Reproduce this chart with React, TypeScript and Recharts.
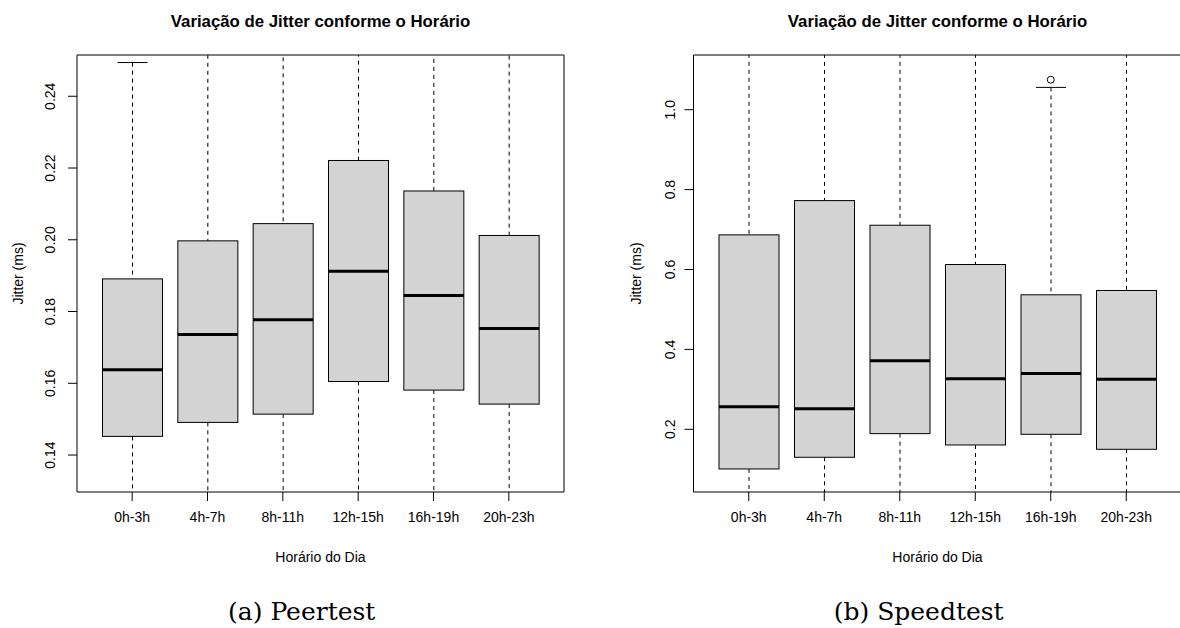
import React from 'react';
import { ComposedChart, Bar, Scatter, XAxis, YAxis } from 'recharts';

// Time-of-day groups shared by both panels
const categories = ['0h-3h', '4h-7h', '8h-11h', '12h-15h', '16h-19h', '20h-23h'];

// Peertest jitter (ms): whisker ends, quartiles, medians and outliers
const peerLow = [0.121, 0.124, 0.126, 0.128, 0.127, 0.125];
const peerQ1 = [0.1452, 0.1491, 0.1514, 0.1605, 0.1581, 0.1542];
const peerMedian = [0.1638, 0.1736, 0.1777, 0.1912, 0.1845, 0.1753];
const peerQ3 = [0.1891, 0.1997, 0.2045, 0.2221, 0.2136, 0.2012];
const peerHigh = [0.2494, 0.256, 0.262, 0.27, 0.266, 0.258];
const peerOutliers: (number | null)[] = [null, null, null, null, null, null];
const peerTicks = [0.14, 0.16, 0.18, 0.2, 0.22, 0.24];
const peerDomain: [number, number] = [0.1297, 0.2515];

// Speedtest jitter (ms)
const speedLow = [0.02, 0.03, 0.035, 0.03, 0.035, 0.03];
const speedQ1 = [0.1008, 0.13, 0.1892, 0.1608, 0.1875, 0.15];
const speedMedian = [0.2567, 0.2517, 0.3717, 0.3267, 0.34, 0.325];
const speedQ3 = [0.6867, 0.7725, 0.7108, 0.6125, 0.5367, 0.5475];
const speedHigh = [1.3, 1.4, 1.3, 1.2, 1.0558, 1.14];
const speedOutliers: (number | null)[] = [null, null, null, null, 1.075, null];
const speedTicks = [0.2, 0.4, 0.6, 0.8, 1.0];
const speedDomain: [number, number] = [0.0431, 1.1369];

const chartTitle = 'Variação de Jitter conforme o Horário';
const xTitle = 'Horário do Dia';
const yTitle = 'Jitter (ms)';

const FONT = '"Liberation Sans", Arial, Helvetica, sans-serif';

type Row = { cat: string; lo: number; q1: number; med: number; q3: number; hi: number; out: number | null };

const buildRows = (
  lo: number[],
  q1: number[],
  med: number[],
  q3: number[],
  hi: number[],
  out: (number | null)[]
): Row[] =>
  categories.map((cat, i) => ({ cat, lo: lo[i], q1: q1[i], med: med[i], q3: q3[i], hi: hi[i], out: out[i] }));

const peerRows = buildRows(peerLow, peerQ1, peerMedian, peerQ3, peerHigh, peerOutliers);
const speedRows = buildRows(speedLow, speedQ1, speedMedian, speedQ3, speedHigh, speedOutliers);

// Draws one box-and-whisker glyph inside the bar spanning [lo, hi]
const BoxShape = (props: any) => {
  const { x, y, width, height, payload } = props;
  if (payload == null || !isFinite(y) || !isFinite(height)) return null;
  const top = Math.min(y, y + height);
  const bottom = Math.max(y, y + height);
  const span = payload.hi - payload.lo;
  const py = (v: number) => top + ((payload.hi - v) / span) * (bottom - top);
  const cx = x + width / 2;
  const cap = width / 4;
  const yHi = py(payload.hi);
  const yLo = py(payload.lo);
  const yQ3 = py(payload.q3);
  const yQ1 = py(payload.q1);
  const yMed = py(payload.med);
  return (
    <g>
      <line x1={cx} x2={cx} y1={yHi} y2={yQ3} stroke="#000" strokeWidth={1} strokeDasharray="4 4" />
      <line x1={cx} x2={cx} y1={yQ1} y2={yLo} stroke="#000" strokeWidth={1} strokeDasharray="4 4" />
      <line x1={cx - cap} x2={cx + cap} y1={yHi} y2={yHi} stroke="#000" strokeWidth={1} />
      <line x1={cx - cap} x2={cx + cap} y1={yLo} y2={yLo} stroke="#000" strokeWidth={1} />
      <rect x={x} y={yQ3} width={width} height={yQ1 - yQ3} fill="#D3D3D3" stroke="#000" strokeWidth={1} />
      <line x1={x} x2={x + width} y1={yMed} y2={yMed} stroke="#000" strokeWidth={3} />
    </g>
  );
};

const OutlierShape = (props: any) => {
  const { cx, cy, payload } = props;
  if (payload == null || payload.out == null || !isFinite(cx) || !isFinite(cy)) return null;
  return <circle cx={cx} cy={cy} r={3.5} fill="none" stroke="#000" strokeWidth={1} />;
};

const XTick = (props: any) => {
  const { x, y, payload } = props;
  return (
    <text x={x} y={y + 19.3} textAnchor="middle" fontSize={14} fontFamily={FONT} fill="#000">
      {payload.value}
    </text>
  );
};

type PanelProps = {
  rows: Row[];
  domain: [number, number];
  ticks: number[];
  digits: number;
  yAxisWidth: number;
  rightMargin: number;
  tickLabelGap: number;
  yTitleGap: number;
};

const Panel = ({ rows, domain, ticks, digits, yAxisWidth, rightMargin, tickLabelGap, yTitleGap }: PanelProps) => {
  const tickSize = 9;
  const tickMargin = 2;
  const YTick = (props: any) => {
    const { x, y, payload } = props;
    const cx = x + tickSize + tickMargin - tickLabelGap;
    return (
      <text
        x={cx}
        y={y}
        transform={`rotate(-90, ${cx}, ${y})`}
        textAnchor="middle"
        dominantBaseline="central"
        fontSize={14}
        fontFamily={FONT}
        fill="#000"
      >
        {Number(payload.value).toFixed(digits)}
      </text>
    );
  };
  return (
    <ComposedChart
      width={600}
      height={628}
      data={rows}
      margin={{ top: 54, right: rightMargin, bottom: 106, left: 0 }}
    >
      <XAxis
        xAxisId="b"
        dataKey="cat"
        type="category"
        height={30}
        interval={0}
        padding={{ left: 17.5, right: 17.5 }}
        tickSize={tickSize}
        tickMargin={tickMargin}
        axisLine={{ stroke: '#000' }}
        tickLine={{ stroke: '#000' }}
        tick={<XTick />}
        label={(p: any) => {
          const vb = p.viewBox;
          return (
            <text x={vb.x + vb.width / 2} y={vb.y + 69.5} textAnchor="middle" fontSize={14} fontFamily={FONT} fill="#000">
              {xTitle}
            </text>
          );
        }}
      />
      {/* top edge of the plot frame, carrying the chart title */}
      <XAxis
        xAxisId="t"
        dataKey="cat"
        type="category"
        orientation="top"
        height={1}
        padding={{ left: 17.5, right: 17.5 }}
        tick={false}
        tickLine={false}
        axisLine={{ stroke: '#000' }}
        label={(p: any) => {
          const vb = p.viewBox;
          return (
            <text
              x={vb.x + vb.width / 2}
              y={vb.y + vb.height - 27.7}
              textAnchor="middle"
              fontSize={16.8}
              fontWeight="bold"
              fontFamily={FONT}
              fill="#000"
            >
              {chartTitle}
            </text>
          );
        }}
      />
      <YAxis
        yAxisId="l"
        type="number"
        domain={domain}
        allowDataOverflow
        ticks={ticks}
        interval={0}
        width={yAxisWidth}
        tickSize={tickSize}
        tickMargin={tickMargin}
        axisLine={{ stroke: '#000' }}
        tickLine={{ stroke: '#000' }}
        tick={<YTick />}
        label={(p: any) => {
          const vb = p.viewBox;
          const cx = vb.x + vb.width - yTitleGap;
          const cy = vb.y + vb.height / 2;
          return (
            <text
              x={cx}
              y={cy}
              transform={`rotate(-90, ${cx}, ${cy})`}
              textAnchor="middle"
              dominantBaseline="central"
              fontSize={14}
              fontFamily={FONT}
              fill="#000"
            >
              {yTitle}
            </text>
          );
        }}
      />
      {/* right edge of the plot frame */}
      <YAxis
        yAxisId="r"
        type="number"
        orientation="right"
        domain={domain}
        allowDataOverflow
        width={1}
        tick={false}
        tickLine={false}
        axisLine={{ stroke: '#000' }}
      />
      <Bar
        xAxisId="b"
        yAxisId="l"
        dataKey={(d: Row) => [d.lo, d.hi]}
        barSize={60}
        shape={BoxShape}
        isAnimationActive={false}
      />
      <Scatter
        xAxisId="t"
        yAxisId="r"
        dataKey="out"
        shape={OutlierShape}
        isAnimationActive={false}
      />
    </ComposedChart>
  );
};

export default function App() {
  return (
    <div
      style={{
        position: 'absolute',
        left: 0,
        top: 0,
        width: 1180,
        height: 628,
        overflow: 'hidden',
        background: '#fff',
      }}
    >
      <div style={{ position: 'absolute', left: 0, top: 0 }}>
        <Panel
          rows={peerRows}
          domain={peerDomain}
          ticks={peerTicks}
          digits={2}
          yAxisWidth={77}
          rightMargin={35}
          tickLabelGap={27}
          yTitleGap={59}
        />
      </div>
      <div style={{ position: 'absolute', left: 600, top: 0 }}>
        <Panel
          rows={speedRows}
          domain={speedDomain}
          ticks={speedTicks}
          digits={1}
          yAxisWidth={93.5}
          rightMargin={17.5}
          tickLabelGap={23.5}
          yTitleGap={57.5}
        />
      </div>
      <svg
        width={1180}
        height={628}
        style={{ position: 'absolute', left: 0, top: 0, pointerEvents: 'none' }}
      >
        <text x={301.7} y={620} textAnchor="middle" fontSize={25} fontFamily='"DejaVu Serif", serif' fill="#000">
          (a) Peertest
        </text>
        <text x={918.7} y={620} textAnchor="middle" fontSize={25} fontFamily='"DejaVu Serif", serif' fill="#000">
          (b) Speedtest
        </text>
      </svg>
    </div>
  );
}
